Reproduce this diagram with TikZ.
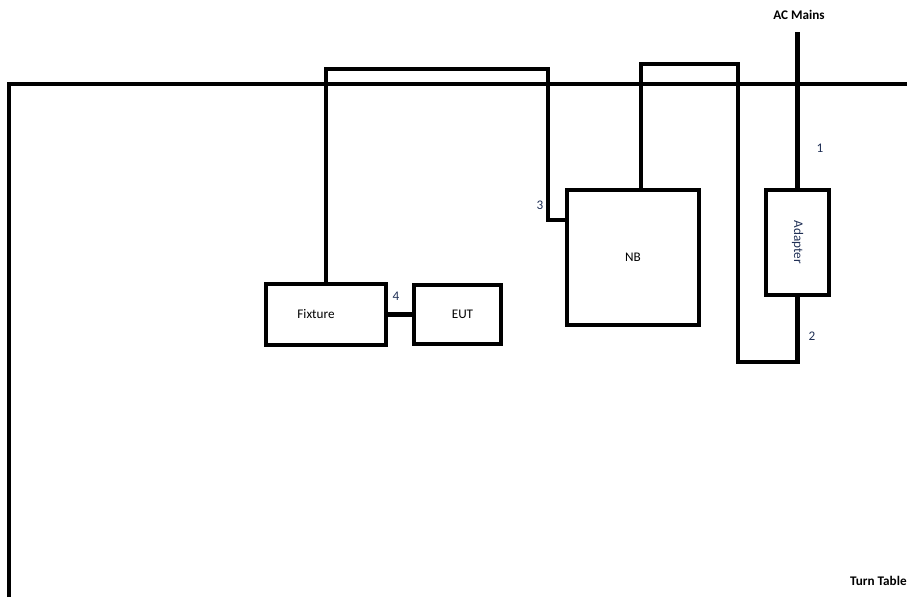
\documentclass[tikz,border=0pt]{standalone}
\usepackage{fontspec}
\setmainfont{Carlito}
\definecolor{labelblue}{HTML}{1F2F55}
\tikzset{
    unit/.style={draw,line width=2.3pt,inner sep=0pt,font=\fontsize{7.5}{9}\selectfont},
    cable/.style={line width=2.3pt,line join=miter},
    tag/.style={inner sep=0pt,font=\fontsize{7.5}{9}\selectfont,text=labelblue},
    heading/.style={inner sep=0pt,font=\fontsize{7.5}{9}\selectfont\bfseries},
}

\begin{document}
\begin{tikzpicture}
    \useasboundingbox (0,0) rectangle (18.14,-11.94);
    % turn table
    \draw[cable] (0.18,-11.94) |- (18.14,-1.68);
    \node[heading,anchor=east] (turntable) at (18.14,-11.62) {Turn Table};
    % boxes
    \node[unit,minimum width=2.4cm,minimum height=1.22cm] (fixture) at (6.52,-6.29) {\hspace*{-4mm}Fixture};
    \node[unit,minimum width=1.74cm,minimum height=1.18cm] (eut) at (9.15,-6.29) {\hspace*{2mm}EUT};
    \node[unit,minimum width=2.64cm,minimum height=2.7cm] (nb) at (12.66,-5.15) {NB};
    \node[unit,minimum width=1.26cm,minimum height=2.1cm,text=labelblue] (adapter) at (15.95,-4.85) {\rotatebox{-90}{Adapter}};
    % cables
    \node[heading] (acmains) at (15.98,-0.3) {AC Mains};
    \coordinate (mains) at (15.95,-0.64);
    \coordinate (loopA) at (14.76,-7.24);
    \coordinate (loopB) at (12.82,-1.28);
    \coordinate (loopC) at (10.96,-1.38);
    \coordinate (nbin) at (11.34,-4.4);
    \draw[cable] (mains) -- (adapter.north);
    \draw[cable] (adapter.south) |- (loopA) |- (loopB) -- (loopB |- nb.north);
    \draw[cable] (nbin -| nb.west) -| (loopC) -| (fixture.north);
    \draw[cable] (fixture.east) -- (eut.west);
    % numbers
    \node[tag] (one) at (16.4,-2.96) {1};
    \node[tag] (two) at (16.24,-6.72) {2};
    \node[tag] (three) at (10.8,-4.1) {3};
    \node[tag] (four) at (7.92,-5.92) {4};
\end{tikzpicture}
\end{document}
